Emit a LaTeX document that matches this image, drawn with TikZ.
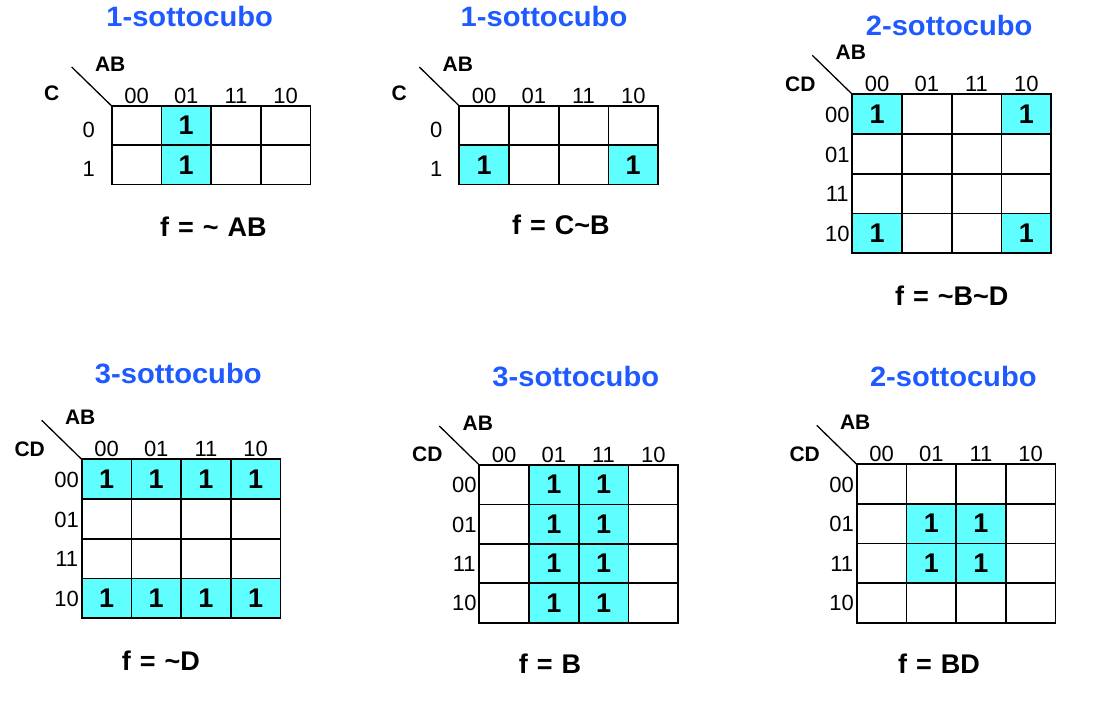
\documentclass[tikz,border=0pt]{standalone}
\usepackage{fontspec}
\setmainfont{Liberation Sans}
\usepackage{graphicx}
\definecolor{kblue}{RGB}{30,90,255}
\definecolor{kcyan}{RGB}{95,255,255}
\def\cw{49.7}
\newcommand\fs{\hspace{9pt}}
\tikzset{
  cellbox/.style={draw=black, line width=1.8pt, minimum width=\cw pt, inner sep=0pt, outer sep=0pt},
  oncell/.style={fill=kcyan, minimum width=\cw pt, inner sep=0pt, outer sep=0pt, font=\bfseries\fontsize{27}{27}\selectfont},
  coltext/.style={font=\fontsize{22}{22}\selectfont, anchor=base, inner sep=0pt},
  rowtext/.style={font=\fontsize{22}{22}\selectfont, anchor=center, inner sep=0pt},
  varlabel/.style={font=\bfseries\fontsize{21}{21}\selectfont, anchor=center, inner sep=0pt},
  diagline/.style={draw=black, line width=1.3pt},
  titletext/.style={font=\bfseries\fontsize{28}{28}\selectfont, text=kblue, anchor=base, inner sep=0pt},
  formtext/.style={font=\bfseries\fontsize{27}{27}\selectfont, anchor=base, inner sep=0pt}
}
% #1 name, #2 left, #3 top, #4 last row index, #5 cell height, #6 list of filled cells row/col
\newcommand\kmap[6]{%
  \ifnum#4=1 \def\rlx{23}\def\rly{4.5}\def\vl{C}\def\vlx{60}\def\vly{13}\def\rl{0,1}%
  \else \def\rlx{15}\def\rly{0.5}\def\vl{CD}\def\vlx{52}\def\vly{10.5}\def\rl{00,01,11,10}\fi
  \foreach \kr/\kc in {#6}{%
    \node[oncell, minimum height=#5pt] (#1-on-\kr-\kc) at ({#2+(\kc+0.5)*\cw},{#3+(\kr+0.5)*#5}) {\raisebox{-1.2pt}{1}};}
  \foreach \kc in {0,...,3}{\foreach \kr in {0,...,#4}{%
    \node[cellbox, minimum height=#5pt] (#1-\kr-\kc) at ({#2+(\kc+0.5)*\cw},{#3+(\kr+0.5)*#5}) {};}}
  \foreach \t [count=\i from 0] in {00,01,11,10}{%
    \node[coltext] (#1-col-\i) at ({#2+(\i+0.5)*\cw},{#3-3}) {\t};}
  \foreach \t [count=\i from 0] in \rl{%
    \node[rowtext] (#1-row-\i) at ({#2-\rlx},{#3+(\i+0.5)*#5+\rly}) {\t};}
  \coordinate (#1-diag) at ({#2-40},{#3-39});
  \draw[diagline] (#1-diag) -- (#1-0-0.north west);
  \node[varlabel] (#1-ab) at ({#2-1.5},{#3-42}) {AB};
  \node[varlabel] (#1-var) at ({#2-\vlx},{#3-\vly}) {\vl};
}
\begin{document}
\begin{tikzpicture}[x=1pt,y=-1pt]
\useasboundingbox (0,0) rectangle (1101,702);
% map 1
\kmap{ma}{111.7}{106}{1}{39.2}{0/1,1/1}
\node[titletext] (ta) at (189.7,26) {\scalebox{1.04}[1]{1-sottocubo}};
\node[formtext] (fa) at (213.3,236.7) {f\fs=\fs\textasciitilde\fs AB};
% map 2
\kmap{mb}{459.3}{106}{1}{39.2}{1/0,1/3}
\node[titletext] (tb) at (544,26.7) {\scalebox{1.04}[1]{1-sottocubo}};
\node[formtext] (fb) at (560.8,234) {f\fs=\fs C\textasciitilde B};
% map 3
\kmap{mc}{852.3}{94.3}{3}{39.75}{0/0,0/3,3/0,3/3}
\node[titletext] (tc) at (949.2,35) {\scalebox{1.04}[1]{2-sottocubo}};
\node[formtext] (fc) at (951.7,305) {f\fs=\fs\textasciitilde B\textasciitilde D};
% map 4
\kmap{md}{81.7}{459.3}{3}{39.75}{0/0,0/1,0/2,0/3,3/0,3/1,3/2,3/3}
\node[titletext] (td) at (178.3,383.3) {\scalebox{1.04}[1]{3-sottocubo}};
\node[formtext] (fd) at (160.8,670) {f\fs=\fs\textasciitilde D};
% map 5
\kmap{me}{479.3}{465}{3}{39.4}{0/1,0/2,1/1,1/2,2/1,2/2,3/1,3/2}
\node[titletext] (te) at (575.8,386.7) {\scalebox{1.04}[1]{3-sottocubo}};
\node[formtext] (fe) at (550,673.5) {f\fs=\fs B};
% map 6
\kmap{mf}{856.7}{464.3}{3}{39.6}{1/1,1/2,2/1,2/2}
\node[titletext] (tf) at (953.3,386.7) {\scalebox{1.04}[1]{2-sottocubo}};
\node[formtext] (ff) at (939,673.5) {f\fs=\fs BD};
\end{tikzpicture}
\end{document}
